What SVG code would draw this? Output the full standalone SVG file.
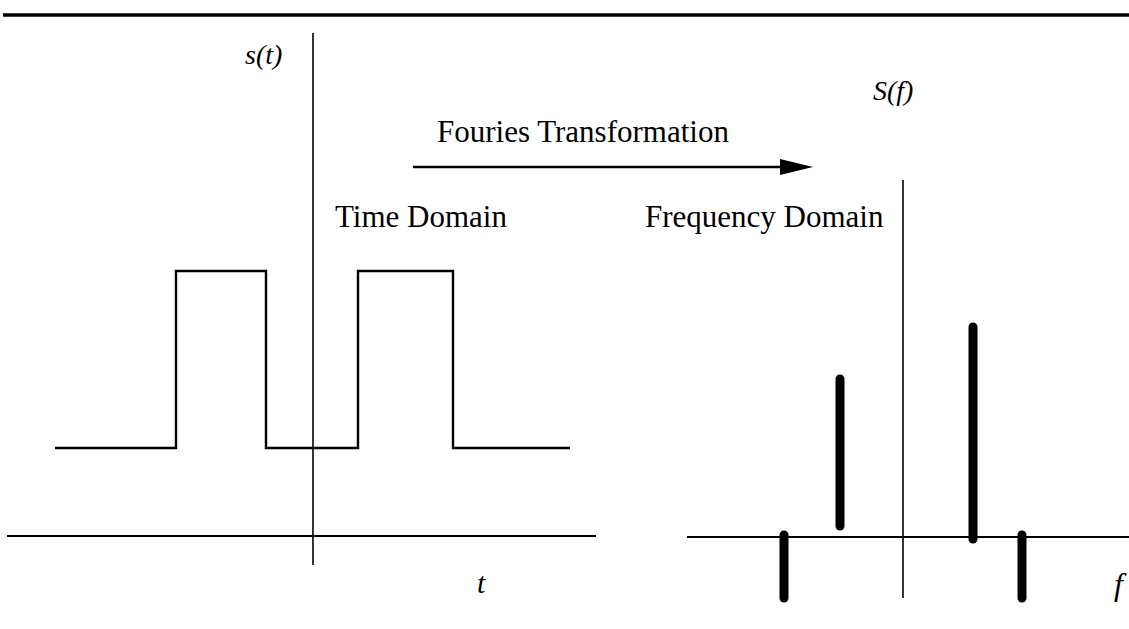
<svg xmlns="http://www.w3.org/2000/svg" width="1129" height="629" viewBox="0 0 1129 629">
<style>
.ax{stroke:#000;stroke-width:2;fill:none}
.thin{stroke:#000;stroke-width:1.6;fill:none}
.sig{stroke:#000;stroke-width:2.4;fill:none;stroke-linejoin:miter}
.bar{stroke:#000;stroke-width:9;stroke-linecap:round}
.lbl{font-family:"Liberation Serif","Times New Roman",serif;font-size:31px;fill:#000}
.it{font-family:"Liberation Serif","Times New Roman",serif;font-style:italic;font-size:28px;fill:#000}
</style>
<rect width="1129" height="629" fill="#fff"/>
<line x1="3" y1="15" x2="1129" y2="15" stroke="#000" stroke-width="3.5"/>
<g id="time-domain">
<line class="thin" x1="313" y1="33" x2="313" y2="565"/>
<line class="ax" x1="7" y1="536" x2="596" y2="536"/>
<polyline class="sig" points="55,448 176,448 176,271 266,271 266,448 358,448 358,271 453,271 453,448 570,448"/>
<text class="it" x="245" y="64">s(t)</text>
<text class="it" x="477" y="593" style="font-size:30px">t</text>
<text class="lbl" x="335" y="227">Time Domain</text>
</g>
<g id="connectors">
<line x1="413" y1="167" x2="785" y2="167" stroke="#000" stroke-width="2.5"/>
<polygon points="780,159 813,167 780,175" fill="#000"/>
<text class="lbl" x="437" y="142">Fouries Transformation</text>
</g>
<g id="frequency-domain">
<line class="thin" x1="903" y1="180" x2="903" y2="598"/>
<line class="ax" x1="687" y1="537" x2="1129" y2="537"/>
<line class="bar" x1="784" y1="535" x2="784" y2="598"/>
<line class="bar" x1="840" y1="379" x2="840" y2="526"/>
<line class="bar" x1="973" y1="327" x2="973" y2="539"/>
<line class="bar" x1="1022" y1="535" x2="1022" y2="598"/>
<text class="it" x="873" y="100">S(f)</text>
<text class="it" x="1114" y="595" style="font-size:32px">f</text>
<text class="lbl" x="645" y="227">Frequency Domain</text>
</g>
</svg>
